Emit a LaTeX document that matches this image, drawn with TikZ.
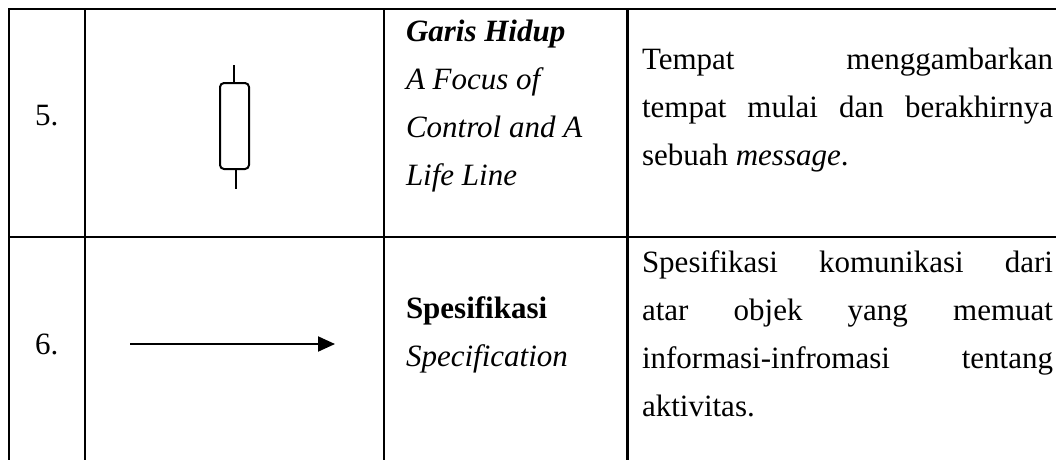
\documentclass[tikz,border=0pt]{standalone}
\usepackage{fontspec}
\setmainfont{Liberation Serif}
\usetikzlibrary{arrows.meta}
\tikzset{
  rule/.style={line width=2.6pt, line cap=rect},
  sym/.style={line width=2pt},
  txt/.style={anchor=base west, inner sep=0pt, outer sep=0pt, font=\fontsize{31}{48}\selectfont},
}
\newcommand{\jline}[1]{\makebox[411pt][s]{#1}}
\begin{document}
\begin{tikzpicture}[x=1pt,y=-1pt]
\useasboundingbox (0,0) rectangle (1056,459);
% table rules
\draw[rule] (1056,9) -- (9,9) -- (9,462);
\draw[rule] (9,237) -- (1056,237);
\draw[rule] (85,9) -- (85,462);
\draw[rule] (384,9) -- (384,462);
\draw[rule] (627.5,9) -- (627.5,462);
% row 5
\node[txt] (n5) at (35,125) {5.};
\coordinate (lt1) at (234,65);
\coordinate (lt2) at (234,83);
\coordinate (lb1) at (236,169);
\coordinate (lb2) at (236,189);
\draw[sym] (lt1) -- (lt2);
\draw[sym, rounded corners=4pt] (220,83) rectangle (249,169);
\draw[sym] (lb1) -- (lb2);
\node[txt] (m5a) at (406,41) {\textbf{\textit{Garis Hidup}}};
\node[txt] (m5b) at (406,89) {\textit{A Focus of}};
\node[txt] (m5c) at (406,137) {\textit{Control and A}};
\node[txt] (m5d) at (406,185) {\textit{Life Line}};
\node[txt] (d5a) at (642,69) {\jline{Tempat menggambarkan}};
\node[txt] (d5b) at (642,117) {\jline{tempat mulai dan berakhirnya}};
\node[txt] (d5c) at (642,165) {sebuah \textit{message}.};
% row 6
\node[txt] (n6) at (35,354) {6.};
\coordinate (a1) at (130,344);
\coordinate (a2) at (335,344);
\draw[sym, -{Triangle[length=17pt,width=15pt]}] (a1) -- (a2);
\node[txt] (m6a) at (406,318) {\textbf{Spesifikasi}};
\node[txt] (m6b) at (406,366) {\textit{Specification}};
\node[txt] (d6a) at (642,272) {\jline{Spesifikasi komunikasi dari}};
\node[txt] (d6b) at (642,320) {\jline{atar objek yang memuat}};
\node[txt] (d6c) at (642,368) {\jline{informasi-infromasi tentang}};
\node[txt] (d6d) at (642,416) {aktivitas.};
\end{tikzpicture}
\end{document}
